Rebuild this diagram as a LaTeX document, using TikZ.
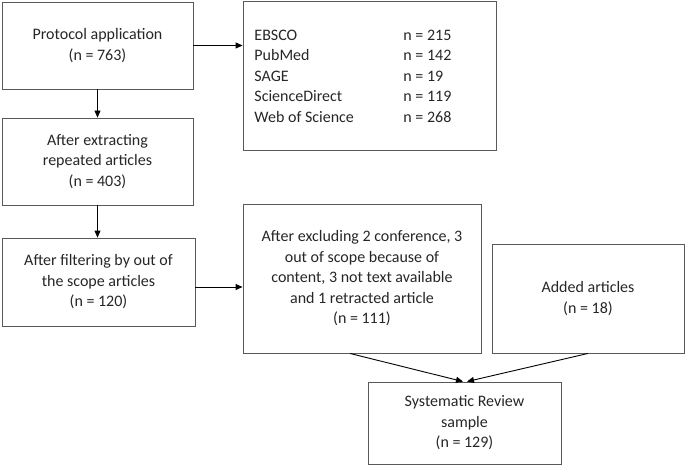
\documentclass[tikz,border=0pt]{standalone}
\usepackage{fontspec}
\setmainfont{Carlito}
\usetikzlibrary{arrows.meta,calc}
\begin{document}
\begin{tikzpicture}[x=1pt,y=-1pt,
  box/.style={draw=black!65, line width=0.9pt, inner sep=0pt, align=center,
    font=\fontsize{16}{20.5}\selectfont, text=black!85},
  arr/.style={draw=black, line width=0.9pt, -{Triangle[length=7pt,width=6pt]}}]
\useasboundingbox (0,0) rectangle (685,465);
% boxes: centre, width, height
\node[box, minimum width=191pt, minimum height=87pt] (b1) at (97.5,45.5) {Protocol application\\(n = 763)};
\node[box, minimum width=253pt, minimum height=149pt] (db) at (369.5,75.5) {};
\node[box, draw=none, anchor=west, align=left] (dbt) at (254,76)
  {\makebox[149pt][l]{EBSCO}n = 215\\
   \makebox[149pt][l]{PubMed}n = 142\\
   \makebox[149pt][l]{SAGE}n = 19\\
   \makebox[149pt][l]{ScienceDirect}n = 119\\
   \makebox[149pt][l]{Web of Science}n = 268};
\node[box, minimum width=191pt, minimum height=87pt] (b2) at (97.5,161.5) {After extracting\\repeated articles\\(n = 403)};
\node[box, minimum width=193pt, minimum height=88pt] (b3) at (98.5,282) {After filtering by out of\\the scope articles\\(n = 120)};
\node[box, minimum width=238pt, minimum height=149pt] (b4) at (362,278.5) {After excluding 2 conference, 3\\out of scope because of\\content, 3 not text available\\and 1 retracted article\\(n = 111)};
\node[box, minimum width=192pt, minimum height=109pt] (b5) at (588,298.5) {Added articles\\(n = 18)};
\node[box, minimum width=193pt, minimum height=82pt] (b6) at (464.5,423) {Systematic Review\\sample\\(n = 129)};
% connectors
\draw[arr] (b1.east) -- (b1.east -| db.west);
\draw[arr] (b1.south) -- (b2.north);
\draw[arr] (b2.south) -- (b2.south |- b3.north);
\draw[arr] ([yshift=-5pt]b3.east) -- ([yshift=-5pt]b3.east -| b4.west);
\draw[arr] ([xshift=-12pt]b4.south) -- ([xshift=-1.5pt]b6.north);
\draw[arr] (b5.south) -- ([xshift=2.5pt]b6.north);
\end{tikzpicture}
\end{document}
